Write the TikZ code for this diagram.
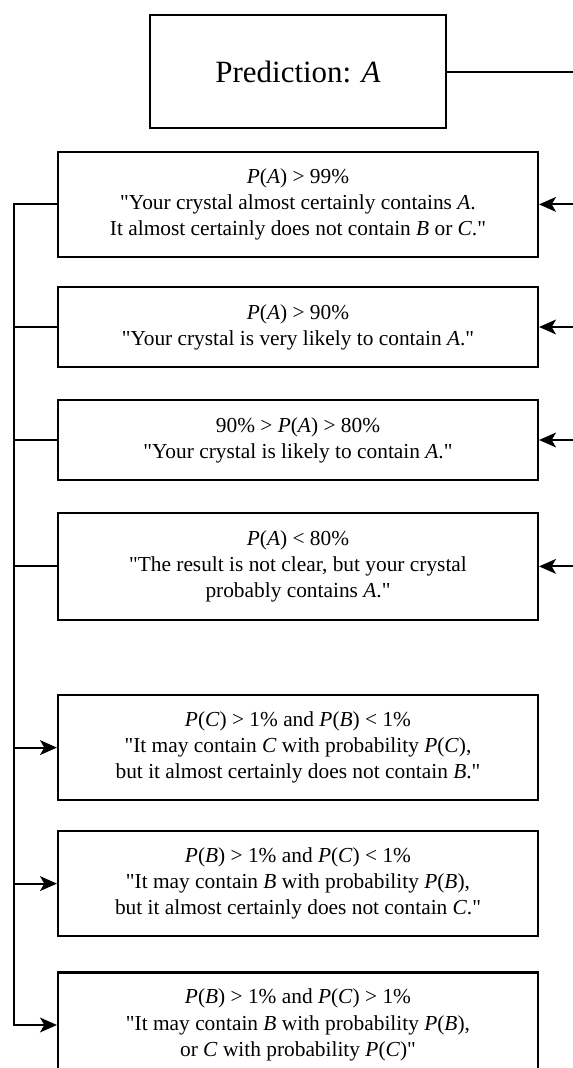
\documentclass[tikz,border=0pt]{standalone}
\usepackage{fontspec}
\setmainfont{Liberation Serif}[Ligatures=TeXOff]
\usetikzlibrary{arrows.meta}

\tikzset{
  box/.style={draw, line width=1.5pt, minimum width=12cm, minimum height=2.625cm, align=center, inner sep=0pt, font=\fontsize{15.2}{18.6}\selectfont},
  link/.style={line width=1.5pt},
  arr/.style={line width=1.5pt, -{Stealth[length=12pt,width=10.5pt,inset=3pt]}}
}

\begin{document}
\begin{tikzpicture}
        \useasboundingbox (0,0) rectangle (14.325,26.7);
        \clip (0,0) rectangle (14.325,26.7);
        \node [box, minimum width=7.4cm, minimum height=2.825cm, font=\fontsize{22}{26}\selectfont] (pred) at (7.45,24.91) {Prediction: \textit{A}};
        \node [box] (b1) at (7.45,21.59) {\textit{P}(\textit{A}) > 99\%\\"Your crystal almost certainly contains \textit{A}.\\It almost certainly does not contain \textit{B} or \textit{C}."};
        \node [box, minimum height=2cm] (b2) at (7.45,18.525) {\textit{P}(\textit{A}) > 90\%\\"Your crystal is very likely to contain \textit{A}."};
        \node [box, minimum height=2cm] (b3) at (7.45,15.7) {90\% > \textit{P}(\textit{A}) > 80\%\\"Your crystal is likely to contain \textit{A}."};
        \node [box, minimum height=2.675cm] (b4) at (7.45,12.54) {\textit{P}(\textit{A}) < 80\%\\"The result is not clear, but your crystal\\probably contains \textit{A}."};
        \node [box] (b5) at (7.45,8.01) {\textit{P}(\textit{C}) > 1\% and \textit{P}(\textit{B}) < 1\%\\"It may contain \textit{C} with probability \textit{P}(\textit{C}),\\but it almost certainly does not contain \textit{B}."};
        \node [box] (b6) at (7.45,4.61) {\textit{P}(\textit{B}) > 1\% and \textit{P}(\textit{C}) < 1\%\\"It may contain \textit{B} with probability \textit{P}(\textit{B}),\\but it almost certainly does not contain \textit{C}."};
        \node [box] (b7) at (7.45,1.075) {\textit{P}(\textit{B}) > 1\% and \textit{P}(\textit{C}) > 1\%\\"It may contain \textit{B} with probability \textit{P}(\textit{B}),\\or \textit{C} with probability \textit{P}(\textit{C})"};
        % links leaving the picture on the right
        \coordinate (out) at (14.325,24.91);
        \coordinate (r1) at (14.325,21.59);
        \coordinate (r2) at (14.325,18.525);
        \coordinate (r3) at (14.325,15.7);
        \coordinate (r4) at (14.325,12.54);
        \draw [link] (pred) -- (out);
        \draw [arr] (r1) -- (b1);
        \draw [arr] (r2) -- (b2);
        \draw [arr] (r3) -- (b3);
        \draw [arr] (r4) -- (b4);
        % left bus
        \coordinate (top) at (0.35,21.59);
        \coordinate (bot) at (0.35,1.075);
        \draw [arr] (b1) -- (top) -- (bot) -- (b7);
        \draw [link] (b2) -- (b2 -| top);
        \draw [link] (b3) -- (b3 -| top);
        \draw [link] (b4) -- (b4 -| top);
        \draw [arr] (b5 -| top) -- (b5);
        \draw [arr] (b6 -| top) -- (b6);
    \end{tikzpicture}
\end{document}
